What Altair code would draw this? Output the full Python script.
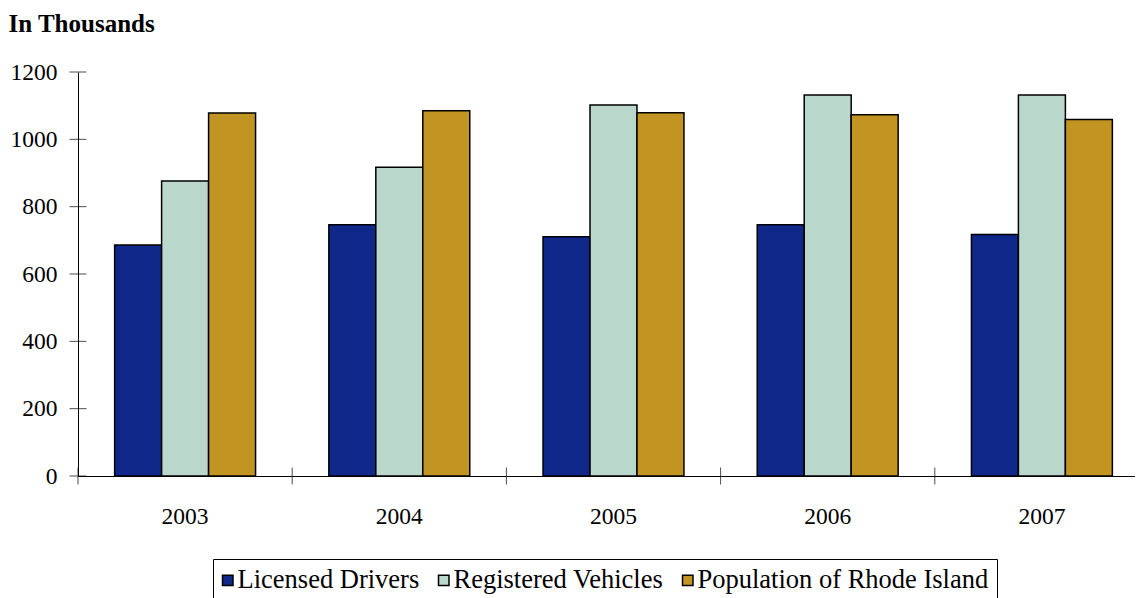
import altair as alt
import pandas as pd

years = ["2003", "2004", "2005", "2006", "2007"]
series_names = ["Licensed Drivers", "Registered Vehicles", "Population of Rhode Island"]
licensed_drivers = [686, 746, 711, 746, 717]
registered_vehicles = [876, 917, 1102, 1132, 1132]
population = [1078, 1085, 1079, 1073, 1059]
series_colors = ["#10288A", "#B9D7CB", "#C29522"]
y_ticks = [0, 200, 400, 600, 800, 1000, 1200]

rows = []
for i, yr in enumerate(years):
    for name, vals in zip(series_names, [licensed_drivers, registered_vehicles, population]):
        rows.append({"year": yr, "series": name, "value": vals[i]})
df = pd.DataFrame(rows)

W = 1071
H = 404
step = W / len(years)
FONT = "Liberation Serif"

yscale = alt.Scale(domain=[0, 1200], nice=False, zero=True)
xscale = alt.Scale(paddingInner=0, paddingOuter=0)

xaxis = alt.Axis(title=None, labelAngle=0, ticks=False, tickSize=0, grid=False,
                 labelFont=FONT, labelFontSize=23.5, labelColor="black",
                 labelBaseline="alphabetic", labelPadding=47,
                 domainColor="black", domainWidth=1)
yaxis = alt.Axis(title="In Thousands", titleAngle=0, titleAlign="left",
                 titleBaseline="alphabetic", titleX=-70, titleY=-41,
                 titleFont=FONT, titleFontSize=25, titleFontWeight="bold",
                 titleColor="black", format="d",
                 values=y_ticks, grid=False, ticks=False, tickSize=0,
                 labelFont=FONT, labelFontSize=23.5, labelColor="black",
                 labelPadding=21, domainColor="black", domainWidth=1)

bars = alt.Chart(df).mark_bar(stroke="black", strokeWidth=1.5).encode(
    x=alt.X("year:N", sort=years, scale=xscale, axis=xaxis),
    xOffset=alt.XOffset("series:N", sort=series_names,
                        scale=alt.Scale(paddingOuter=0.78, paddingInner=0)),
    y=alt.Y("value:Q", scale=yscale, axis=yaxis),
    color=alt.Color("series:N", sort=series_names,
                    scale=alt.Scale(domain=series_names, range=series_colors),
                    legend=alt.Legend(title=None, orient="none", legendX=135, legendY=487,
                                      direction="horizontal", strokeColor="black",
                                      padding=8, symbolType="square", symbolSize=110,
                                      symbolStrokeColor="black", symbolStrokeWidth=1.5,
                                      symbolOffset={"expr": "-6.5"},
                                      labelFont=FONT, labelFontSize=26.5, labelColor="black",
                                      labelLimit=500, labelOffset={"expr": "-3.5"},
                                      columnPadding=15)),
)

ytick_df = pd.DataFrame({"value": y_ticks})
yticks = alt.Chart(ytick_df).mark_tick(color="black", size=17, thickness=1,
                                       orient="horizontal").encode(
    y=alt.Y("value:Q", scale=yscale, axis=yaxis),
    x=alt.value(0),
)

xtick_df = pd.DataFrame({"year": years})
xticks = alt.Chart(xtick_df).mark_tick(color="black", size=17, thickness=1,
                                       orient="vertical", xOffset=-step / 2).encode(
    x=alt.X("year:N", sort=years, scale=xscale, axis=xaxis),
    y=alt.value(H),
)

chart = alt.layer(bars, yticks, xticks).properties(
    width=W, height=H,
    autosize=alt.AutoSizeParams(type="none"),
    padding={"left": 70, "top": 64, "right": -14, "bottom": 122},
    background="white",
).configure_view(stroke=None)

chart.save("out.html", embed_options={"renderer": "svg", "actions": False})
